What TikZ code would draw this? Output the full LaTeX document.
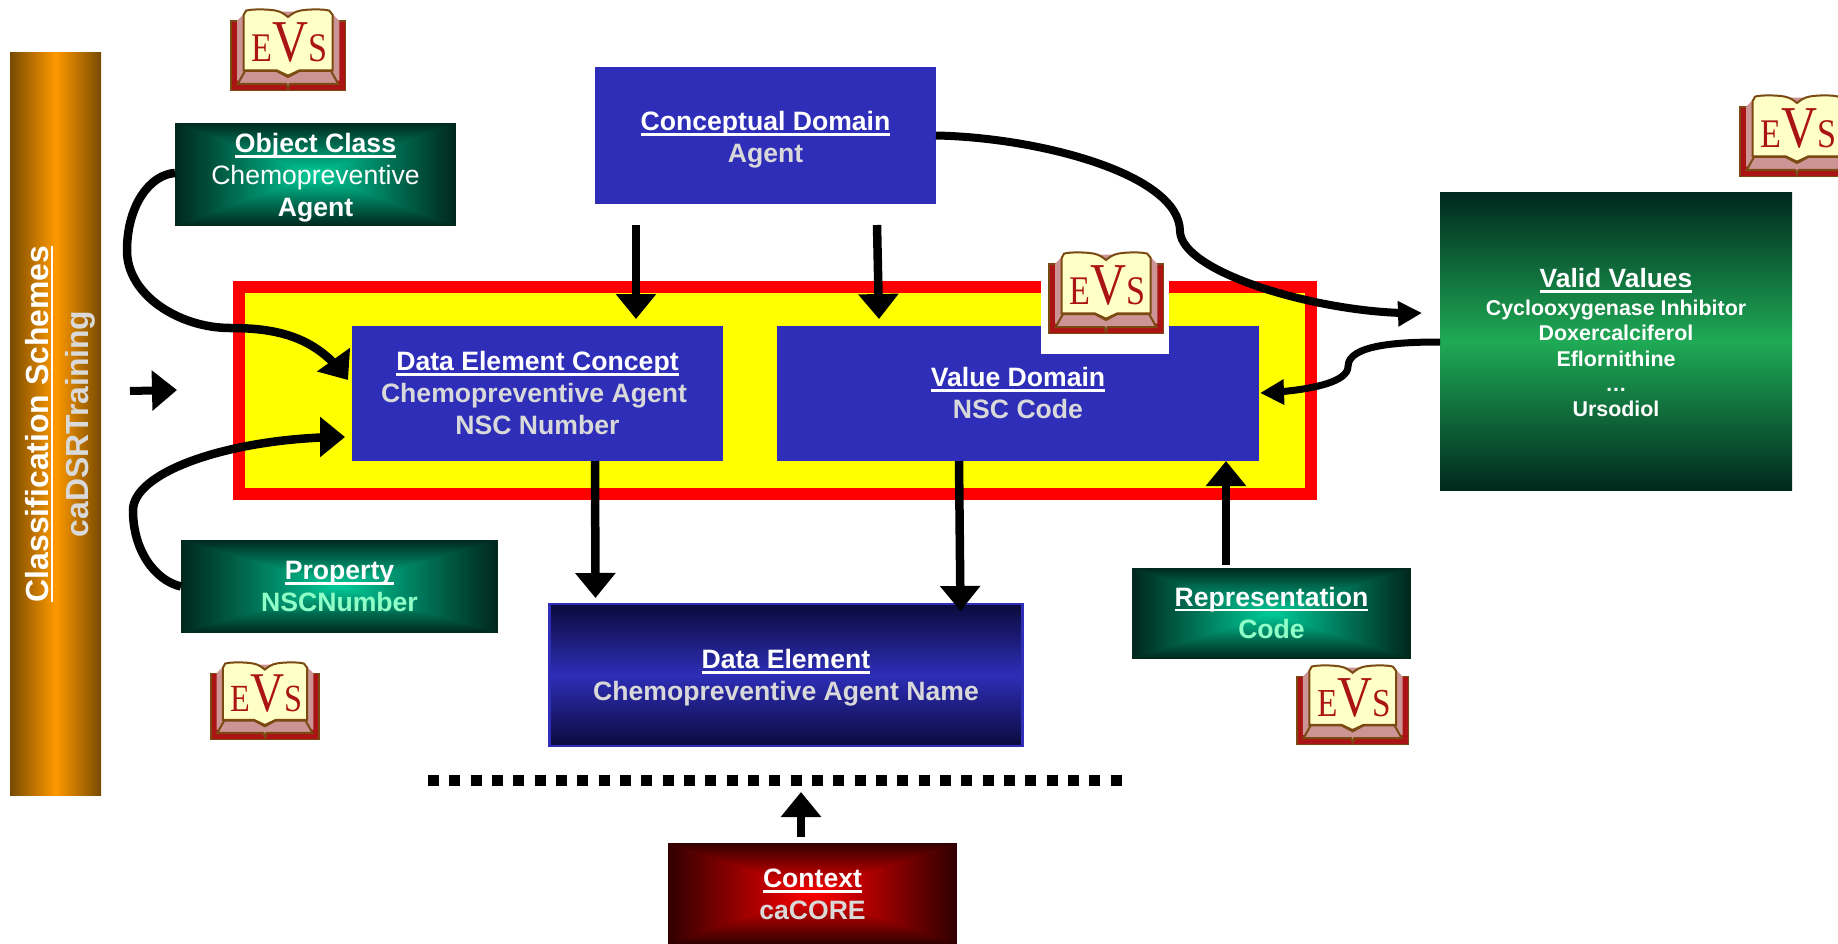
\documentclass[tikz,border=0pt]{standalone}
\usepackage{fontspec}
\setmainfont{Liberation Sans}
\newfontfamily\evsfont{Liberation Serif}
\usetikzlibrary{arrows.meta,calc,bending}
\definecolor{navy}{HTML}{2E2EB8}
\definecolor{softgray}{HTML}{D9D9D9}
\definecolor{mint}{HTML}{90FFC8}
\definecolor{tealedge}{HTML}{00281E}
\definecolor{tealmid}{HTML}{00CC99}
\definecolor{rededge}{HTML}{320000}
\definecolor{redmid}{RGB}{255,0,0}
\definecolor{greenmid}{HTML}{1FAA55}
\definecolor{navydark}{HTML}{0A0A3C}
\definecolor{orangemid}{HTML}{FF9900}
\definecolor{orangeedge}{HTML}{784A00}
\definecolor{framered}{RGB}{255,0,0}
\definecolor{frameyellow}{RGB}{255,255,0}
\definecolor{evsred}{HTML}{AA1414}
\definecolor{evsbrown}{HTML}{7B4A12}
\definecolor{evspink}{HTML}{CC9494}
\definecolor{evscream}{HTML}{FFFFC8}
\newcommand\ulx[1]{\leavevmode\setbox0\hbox{#1}\rlap{\vrule width \wd0 height -2.6pt depth 5.2pt}\box0\relax}
\newcommand\sz[2]{{\fontsize{#1}{#1}\selectfont #2}}
\newcommand\dn[1]{\rule{0pt}{#1pt}}
\newcommand\up[1]{\rule[-#1pt]{0pt}{0pt}}
\tikzset{
  base/.style={inner sep=0pt,outer sep=0pt,align=center,text=white,font=\fontsize{26.6}{32}\selectfont\bfseries},
  solidbox/.style={base,fill=navy},
  xpanel/.style 2 args={base,fill=#1,path picture={
    \def\bb{path picture bounding box}
    \foreach \i in {0,...,49}{
      \pgfmathsetmacro\fr{\i/100}
      \pgfmathtruncatemacro\pc{\i*100/49}
      \fill[#2!\pc!#1] ($(\bb.south west)!\fr!(\bb.north east)$) rectangle ($(\bb.north east)!\fr!(\bb.south west)$);
    }
  }},
  conn/.style={draw=black,line width=8.5pt,-{Triangle[width=39pt,length=25pt,flex=0]}},
  connthin/.style={draw=black,line width=7pt,-{Triangle[width=24pt,length=24pt,flex=0]}},
  evsbook/.pic={
    \draw[fill=evsred,draw=evsbrown,line width=1.3pt] (0,36) rectangle (343,245);
    \draw[fill=evspink,draw=none] (18,36) -- (45,8) -- (298,8) -- (325,36) -- (325,215) -- (18,215) -- cycle;
    \draw[fill=evscream,draw=evsbrown,line width=2pt] (45,5) .. controls (60,0) and (110,0) .. (135,5) .. controls (150,8) and (160,15) .. (171,24) .. controls (182,15) and (192,8) .. (207,5) .. controls (232,0) and (280,0) .. (295,5) -- (305,18) -- (305,184) -- (205,184) -- (171,200) -- (137,184) -- (38,184) -- (38,18) -- cycle;
    \draw[fill=evspink,draw=evsbrown,line width=2pt] (42,186) -- (137,186) -- (171,204) -- (205,186) -- (300,186) -- (322,225) -- (176,225) -- (171,238) -- (166,225) -- (20,225) -- cycle;
    \node[name=-t,anchor=base,transform shape,inner sep=0pt,text=evsred,font=\evsfont,xscale=.84] at (176,157) {\sz{122}{E}\sz{178}{V}\sz{122}{S}};
  },
}
\begin{document}
\begin{tikzpicture}[x=1pt,y=-1pt]
\useasboundingbox (0,0) rectangle (1838,944);
\clip (0,0) rectangle (1838,944);
\fill[white] (0,0) rectangle (1838,944);

% frame
\node[name=frame,base,fill=frameyellow,draw=framered,line width=12pt,minimum width=1072pt,minimum height=207pt] at (775,390.5) {};

% side bar
\node[name=bar,base,minimum width=91pt,minimum height=743pt,left color=orangeedge,right color=orangeedge,middle color=orangemid] at (55.5,424) {};
\node[name=barlabel,base,rotate=90,font=\fontsize{31.9}{40}\selectfont\bfseries] at (60,424)
  {\ulx{Classification Schemes}\\ \textcolor{softgray}{caDSRTraining}};

% boxes
\node[name=oc,xpanel={tealedge}{tealmid},minimum width=281pt,minimum height=103pt] at (315.5,174.5)
  {\dn{26.4}\ulx{Object Class}\\ \textmd{Chemopreventive}\\ Agent};
\node[name=cd,solidbox,minimum width=341pt,minimum height=137pt] at (765.5,135.5)
  {\dn{27.5}\ulx{Conceptual Domain}\\ \textcolor{softgray}{Agent}};
\node[name=dec,solidbox,minimum width=371pt,minimum height=135pt] at (537.5,393.5)
  {\ulx{Data Element Concept}\\ \textcolor{softgray}{Chemopreventive Agent}\hspace*{7pt}\mbox{}\\ \textcolor{softgray}{NSC Number}\up{1}};
\node[name=vd,solidbox,minimum width=482pt,minimum height=135pt] at (1018,393.5)
  {\ulx{Value Domain}\\ \textcolor{softgray}{NSC Code}\up{1}};
\node[name=vv,base,font=\fontsize{21.4}{25.4}\selectfont\bfseries,minimum width=352pt,minimum height=297pt,top color=tealedge,bottom color=tealedge,middle color=greenmid] at (1616,341.5)
  {\dn{22}\sz{26.4}{\ulx{Valid Values}}\\[2pt]
   Cyclooxygenase Inhibitor\\ Doxercalciferol\\ Eflornithine\\ \dots\\ Ursodiol};
\node[name=prop,xpanel={tealedge}{tealmid},minimum width=317pt,minimum height=93pt] at (339.5,586.5)
  {\ulx{Property}\\ \textcolor{mint}{NSCNumber}};
\node[name=rep,xpanel={tealedge}{tealmid},minimum width=279pt,minimum height=91pt] at (1271.5,613.5)
  {\ulx{Representation}\\ \textcolor{mint}{Code}\up{2}};
\node[name=de,base,draw=navy,line width=2.5pt,minimum width=473pt,minimum height=142pt,top color=navydark,bottom color=navydark,middle color=navy] at (786,675)
  {\dn{25}\ulx{Data Element}\\ \textcolor{softgray}{Chemopreventive Agent Name}};
\node[name=ctx,xpanel={rededge}{redmid},minimum width=289pt,minimum height=101pt] at (812.5,893.5)
  {\dn{20.5}\ulx{Context}\\ \textcolor{softgray}{caCORE}};

% white patch and book icons
\fill[white] (1041,275) rectangle (1169,354);
\pic[scale=1/3] at (231,9) {evsbook};
\pic[scale=1/3] at (1049,252) {evsbook};
\pic[scale=1/3] at (1740,95) {evsbook};
\pic[scale=.315] at (211,662) {evsbook};
\pic[scale=.325] at (1297,665) {evsbook};

% dotted line
\coordinate (dotA) at (428,780);
\coordinate (dotB) at (1122,780);
\draw[line width=11pt,dash pattern=on 11pt off 10.33pt] (dotA) -- (dotB);

% connectors
\draw[conn] ([shift={(0,-1.5)}]oc.west) .. controls ([shift={(-25,0)}]oc.west) and ([shift={(-48,31)}]oc.west) .. ([shift={(-48,76)}]oc.west)
  .. controls ([shift={(-48,121)}]oc.west) and ([shift={(-172,2)}]dec.north west) .. ([shift={(-122,2)}]dec.north west)
  .. controls ([shift={(-72,2)}]dec.north west) and ([shift={(-34,12)}]dec.north west) .. ([shift={(-4,54)}]dec.north west);
\draw[conn] (prop.west) .. controls ([shift={(-26,-6)}]prop.west) and ([shift={(-48,-36)}]prop.west) .. ([shift={(-48,-76)}]prop.west)
  .. controls ([shift={(-48,-116)}]prop.west) and ([shift={(-117,-24)}]dec.south west) .. ([shift={(-7,-24)}]dec.south west);
\draw[connthin,line width=8pt] (cd.east) .. controls ([shift={(104,2)}]cd.east) and ([shift={(244,39)}]cd.east) .. ([shift={(244,96)}]cd.east)
  .. controls ([shift={(246,139)}]cd.east) and ([shift={(-110,123)}]vv.north west) .. ([shift={(-18,120)}]vv.north west);
\draw[connthin] ([shift={(0,0.5)}]vv.west) .. controls ([shift={(-40,0.5)}]vv.west) and ([shift={(-92,3)}]vv.west) .. ([shift={(-92,25)}]vv.west)
  .. controls ([shift={(-92,43)}]vv.west) and ([shift={(40,-2)}]vd.east) .. ([shift={(1,-0.5)}]vd.east);
\draw[conn] ([shift={(41,21)}]cd.south west) -- ([shift={(284,-7)}]dec.north west);
\draw[conn] ([shift={(-59,21)}]cd.south east) -- ([shift={(102,-7)}]vd.north west);
\draw[conn] ([shift={(243,0)}]dec.south west) -- ([shift={(46,-6)}]de.north west);
\draw[conn] ([shift={(182,0)}]vd.south west) -- ([shift={(411,7)}]de.north west);
\draw[conn] ([shift={(94,-3)}]rep.north west) -- ([shift={(449,0)}]vd.south west);
\draw[conn] ([shift={(-11.5,-6)}]ctx.north) -- ([shift={(-11.5,12)}]ctx.north |- dotA);
\draw[conn,line width=8pt] ([shift={(29,-33)}]bar.east) -- ([shift={(-62,-0.5)}]frame.west);
\end{tikzpicture}
\end{document}
